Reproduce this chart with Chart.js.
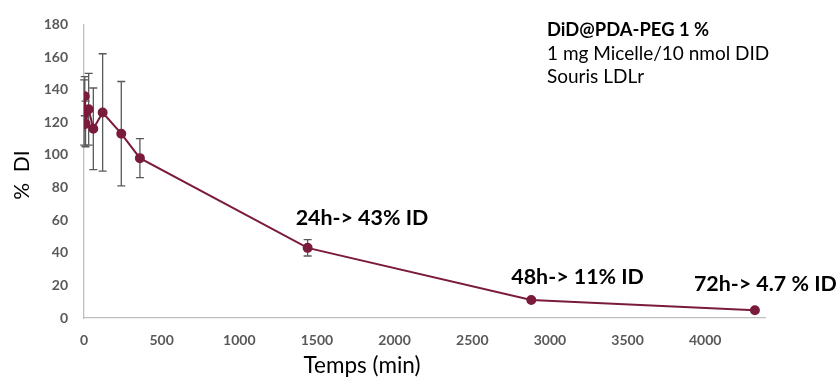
<!DOCTYPE html>
<html>
<head>
<meta charset="utf-8">
<script src="https://cdn.jsdelivr.net/npm/chart.js@4.4.1/dist/chart.umd.min.js"></script>
<style>
  html, body { margin: 0; padding: 0; background: #fff; }
  #wrap { width: 837px; height: 378px; position: relative; }
</style>
</head>
<body>
<div id="wrap"><canvas id="chart" width="837" height="378"></canvas></div>
<script>
// ── Data ──────────────────────────────────────────────
const times = [1, 5, 10, 30, 60, 120, 240, 360, 1440, 2880, 4320];   // min
const dose = [126, 136, 119, 128, 116, 126, 113, 98, 43, 11, 4.7];   // % DI
const errs = [20, 12, 14, 22, 25, 36, 32, 12, 5, 1, 0.5];
const xTicks = [0, 500, 1000, 1500, 2000, 2500, 3000, 3500, 4000];
const yTicks = [0, 20, 40, 60, 80, 100, 120, 140, 160, 180];

const notes = [
  { t: 1440, v: 43, text: '24h-> 43% ID' },
  { t: 2880, v: 11, text: '48h-> 11% ID' },
  { t: 4320, v: 4.7, text: '72h-> 4.7 % ID' }
];
const legendLines = ['DiD@PDA-PEG 1 %', '1 mg Micelle/10 nmol DID', 'Souris LDLr'];

const LINE = '#7b1b3b';
const GREY = '#595959';
const FONT = 'Lato, "Open Sans", sans-serif';

// ── Error bars + text plugin ──────────────────────────
const extras = {
  id: 'extras',
  beforeDatasetsDraw(chart) {
    const { ctx, scales: { x, y } } = chart;
    ctx.save();
    ctx.strokeStyle = GREY;
    ctx.lineWidth = 1.3;
    times.forEach((t, i) => {
      const px = x.getPixelForValue(t);
      const top = y.getPixelForValue(dose[i] + errs[i]);
      const bot = y.getPixelForValue(dose[i] - errs[i]);
      ctx.beginPath();
      ctx.moveTo(px, top); ctx.lineTo(px, bot);
      ctx.moveTo(px - 4, top); ctx.lineTo(px + 4, top);
      ctx.moveTo(px - 4, bot); ctx.lineTo(px + 4, bot);
      ctx.stroke();
    });
    ctx.restore();
  },
  afterDraw(chart) {
    const { ctx, scales: { x, y } } = chart;
    ctx.save();
    ctx.fillStyle = '#000';
    ctx.textBaseline = 'middle';

    // axis titles
    ctx.font = `21px ${FONT}`;
    ctx.textAlign = 'center';
    ctx.save();
    ctx.translate(22, 175);
    ctx.rotate(-Math.PI / 2);
    ctx.fillText('%  DI', 0, 0);
    ctx.restore();
    ctx.font = `22.5px ${FONT}`;
    ctx.fillText('Temps (min)', 362, 366);

    // point notes
    ctx.font = `bold 21.4px ${FONT}`;
    ctx.textAlign = 'left';
    const offs = [[-12, -30], [-20, -23], [-61, -26]];
    notes.forEach((n, i) => {
      const px = x.getPixelForValue(n.t) + offs[i][0];
      const py = y.getPixelForValue(n.v) + offs[i][1];
      ctx.fillText(n.text, px, py);
    });

    // top-right legend text
    legendLines.forEach((s, i) => {
      ctx.font = (i === 0 ? 'bold 18.4px ' : '19px ') + FONT;
      ctx.fillText(s, 547, 30 + i * 23.5);
    });
    ctx.restore();
  }
};

// ── Chart ─────────────────────────────────────────────
new Chart(document.getElementById('chart'), {
  type: 'scatter',
  data: {
    datasets: [{
      data: times.map((t, i) => ({ x: t, y: dose[i] })),
      showLine: true,
      borderColor: LINE,
      backgroundColor: LINE,
      borderWidth: 2,
      pointRadius: 4,
      pointHoverRadius: 4,
      tension: 0
    }]
  },
  options: {
    responsive: false,
    animation: false,
    layout: { padding: { top: 22, right: 72, left: 0, bottom: 0 } },
    plugins: { legend: { display: false }, tooltip: { enabled: false } },
    scales: {
      x: {
        type: 'linear',
        min: 0,
        max: 4385,
        afterBuildTicks: s => { s.ticks = xTicks.map(v => ({ value: v })); },
        afterFit: s => { s.height = 60; },
        grid: { display: false, drawTicks: false },
        border: { color: '#bfbfbf', width: 1.3 },
        ticks: {
          color: GREY, padding: 14, maxRotation: 0,
          callback: v => String(v),
          font: { family: FONT, size: 14, weight: 'bold' }
        }
      },
      y: {
        min: 0,
        max: 180,
        afterBuildTicks: s => { s.ticks = yTicks.map(v => ({ value: v })); },
        afterFit: s => { s.width = 84; },
        grid: { display: false, drawTicks: false },
        border: { color: '#bfbfbf', width: 1.3 },
        ticks: {
          color: GREY, padding: 16,
          callback: v => String(v),
          font: { family: FONT, size: 14, weight: 'bold' }
        }
      }
    }
  },
  plugins: [extras]
});
</script>
</body>
</html>
